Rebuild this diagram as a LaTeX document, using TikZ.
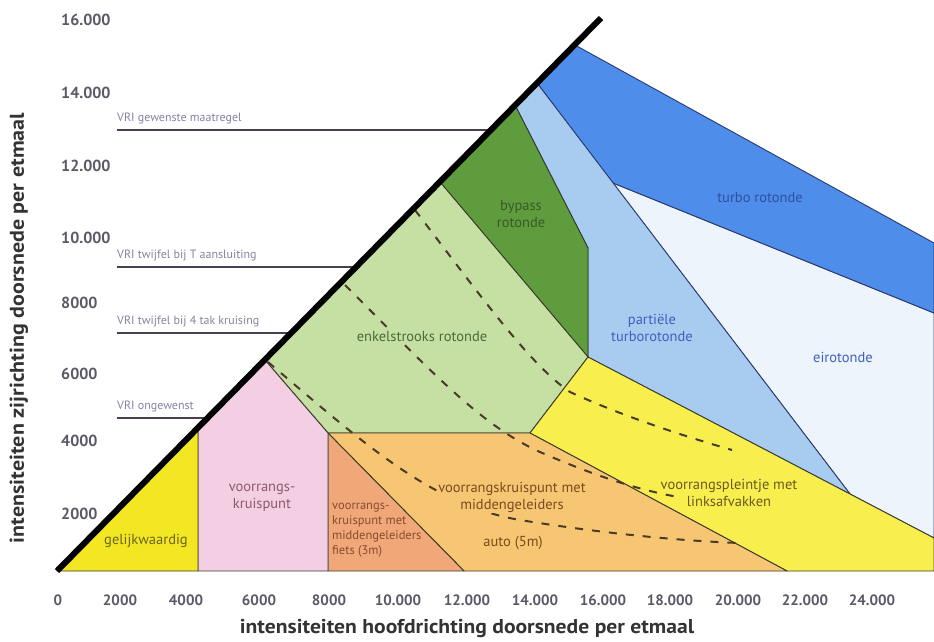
\documentclass[tikz,border=0pt]{standalone}
\usepackage{fontspec}
\setmainfont{PT Sans}
\definecolor{cyel}{HTML}{F3E622}
\definecolor{cyel2}{HTML}{F8EF4F}
\definecolor{cpink}{HTML}{F4CFE3}
\definecolor{csalm}{HTML}{F0A878}
\definecolor{corng}{HTML}{F7C672}
\definecolor{clgrn}{HTML}{C6E0A4}
\definecolor{cdgrn}{HTML}{5E9C3E}
\definecolor{clblu}{HTML}{A8CCF0}
\definecolor{cblu}{HTML}{4F8DEB}
\definecolor{cei}{HTML}{EEF4FB}
\definecolor{cedge}{HTML}{3A3A2A}
\definecolor{cbedge}{HTML}{2A3A70}
\definecolor{cvri}{HTML}{4A4050}
\definecolor{cvritxt}{HTML}{8A80A0}
\definecolor{ctick}{HTML}{5A5A66}
\definecolor{cdash}{HTML}{4A3A2A}
\definecolor{tgel}{HTML}{6B6420}
\definecolor{tpink}{HTML}{8A5A70}
\definecolor{tsalm}{HTML}{8A4A30}
\definecolor{torng}{HTML}{7A4A20}
\definecolor{tyel}{HTML}{6A5A20}
\definecolor{tlgrn}{HTML}{4A6A3A}
\definecolor{tdgrn}{HTML}{3A5A25}
\definecolor{tblu}{HTML}{3D5FC0}
\definecolor{tturbo}{HTML}{3050A0}
\tikzset{
  region/.style={draw=cedge, line width=0.9pt, line join=round},
  bregion/.style={draw=cbedge, line width=0.9pt, line join=round},
  dashcurve/.style={draw=cdash, line width=2pt, dash pattern=on 8pt off 9pt},
  vriline/.style={draw=cvri, line width=1.5pt},
  vrilabel/.style={anchor=base west, inner sep=0pt, text=cvritxt, font=\fontsize{12}{13}\selectfont},
  lbl/.style={align=center, inner sep=1pt, font=\fontsize{14.5}{17}\selectfont},
  ytick/.style={anchor=west, inner sep=0pt, text=ctick, font=\bfseries\fontsize{16}{17}\selectfont},
  xtick/.style={anchor=center, inner sep=0pt, text=ctick, font=\bfseries\fontsize{15}{16}\selectfont},
  axtitle/.style={text=black!80, font=\bfseries\fontsize{20}{21}\selectfont}
}
\begin{document}
\begin{tikzpicture}[x=1pt,y=-1pt]
\useasboundingbox (0,0) rectangle (934,642);
% vertices
\coordinate (O) at (57,571);
\coordinate (T) at (601,18);
\coordinate (a1) at (198,428);
\coordinate (a2) at (265,360);
\coordinate (a3) at (440,182);
\coordinate (a4) at (515,105);
\coordinate (a5) at (537,83);
\coordinate (a6) at (575,45);
\coordinate (b1) at (198,571);
\coordinate (b2) at (328,571);
\coordinate (b3) at (464,571);
\coordinate (b4) at (787,571);
\coordinate (b5) at (934,571);
\coordinate (p1) at (328,433);
\coordinate (p2) at (530,433);
\coordinate (p3) at (588,357);
\coordinate (p4) at (588,248);
\coordinate (p5) at (850,494);
\coordinate (p6) at (613,183);
\coordinate (r1) at (934,243);
\coordinate (r2) at (934,313);
\coordinate (r3) at (934,538);
% regions
\fill[cei, bregion] (p6) -- (r2) -- (r3) -- (p5) -- cycle;
\fill[cblu, bregion] (a5) -- (a6) -- (r1) -- (r2) -- (p6) -- cycle;
\fill[clblu, bregion] (a4) -- (a5) -- (p5) -- (p3) -- (p4) -- cycle;
\fill[cdgrn, region] (a3) -- (a4) -- (p4) -- (p3) -- cycle;
\fill[clgrn, region] (a2) -- (a3) -- (p3) -- (p2) -- (p1) -- cycle;
\fill[cyel2, region] (p2) -- (p3) -- (p5) -- (r3) -- (b5) -- (b4) -- cycle;
\fill[corng, region] (p1) -- (p2) -- (b4) -- (b3) -- cycle;
\fill[csalm, region] (p1) -- (b3) -- (b2) -- cycle;
\fill[cpink, region] (a1) -- (a2) -- (p1) -- (b2) -- (b1) -- cycle;
\fill[cyel, region] (O) -- (a1) -- (b1) -- cycle;
% dashed curves
\draw[dashcurve] (268,362) .. controls (360,440) and (430,505) .. (520,520) .. controls (600,533) and (680,541) .. (740,543);
\draw[dashcurve] (345,285) .. controls (430,370) and (480,425) .. (540,452) .. controls (600,478) and (640,490) .. (678,497);
\draw[dashcurve] (415,210) .. controls (480,295) and (530,365) .. (570,392) .. controls (620,415) and (680,435) .. (732,450);
% region labels
\node[lbl, text=tgel] (lg) at (146,541) {gelijkwaardig};
\node[lbl, text=tpink] (lp) at (262,498) {voorrangs-\\kruispunt};
\node[lbl, align=left, anchor=north west, text=tsalm, font=\fontsize{12.5}{15}\selectfont] (ls) at (331,502) {voorrangs-\\kruispunt met\\middengeleiders\\fiets (3m)};
\node[lbl, fill=corng, text=torng] (lo) at (512,497) {voorrangskruispunt met\\middengeleiders};
\node[lbl, text=torng] (la) at (513,543) {auto (5m)};
\node[lbl, text=tyel] (ly) at (729,493) {voorrangspleintje met\\linksafvakken};
\node[lbl, fill=clgrn, text=tlgrn] (le) at (422,337) {enkelstrooks rotonde};
\node[lbl, text=tdgrn] (lb) at (521,214) {bypass\\rotonde};
\node[lbl, text=tblu] (lt) at (652,328) {partiële\\turborotonde};
\node[lbl, text=tturbo] (lr) at (760,198) {turbo rotonde};
\node[lbl, text=tblu] (li) at (843,357) {eirotonde};
% VRI lines
\coordinate (v1) at (117,130); \coordinate (w1) at (488,130);
\coordinate (v2) at (117,267); \coordinate (w2) at (354,267);
\coordinate (v3) at (117,333); \coordinate (w3) at (289,333);
\coordinate (v4) at (117,418); \coordinate (w4) at (207,418);
\draw[vriline] (v1) -- (w1);
\draw[vriline] (v2) -- (w2);
\draw[vriline] (v3) -- (w3);
\draw[vriline] (v4) -- (w4);
\node[vrilabel] (t1) at (117,121) {VRI gewenste maatregel};
\node[vrilabel] (t2) at (117,258) {VRI twijfel bij T aansluiting};
\node[vrilabel] (t3) at (117,324) {VRI twijfel bij 4 tak kruising};
\node[vrilabel] (t4) at (117,409) {VRI ongewenst};
% main diagonal
\draw[line width=6pt, black] (O) -- (T);
% y ticks
\node[ytick] (y16) at (61,20) {16.000};
\node[ytick] (y14) at (61,93) {14.000};
\node[ytick] (y12) at (61,166) {12.000};
\node[ytick] (y10) at (61,238) {10.000};
\node[ytick] (y8) at (61,303) {8000};
\node[ytick] (y6) at (61,374) {6000};
\node[ytick] (y4) at (61,441) {4000};
\node[ytick] (y2) at (61,514) {2000};
% x ticks
\node[xtick] (x0) at (58,600) {0};
\node[xtick] (x2) at (120,600) {2000};
\node[xtick] (x4) at (186,600) {4000};
\node[xtick] (x6) at (259,600) {6000};
\node[xtick] (x8) at (329,600) {8000};
\node[xtick] (x10) at (398,600) {10.000};
\node[xtick] (x12) at (467,600) {12.000};
\node[xtick] (x14) at (535,600) {14.000};
\node[xtick] (x16) at (603,600) {16.000};
\node[xtick] (x18) at (670,600) {18.000};
\node[xtick] (x20) at (738,600) {20.000};
\node[xtick] (x22) at (805,600) {22.000};
\node[xtick] (x24) at (872,600) {24.000};
% axis titles
\node[axtitle] (xt) at (467,629) {\scalebox{1.08}[1]{intensiteiten hoofdrichting doorsnede per etmaal}};
\node[axtitle, rotate=90] (yt) at (19,328) {\scalebox{1.1}[1]{intensiteiten zijrichting doorsnede per etmaal}};
\end{tikzpicture}
\end{document}
